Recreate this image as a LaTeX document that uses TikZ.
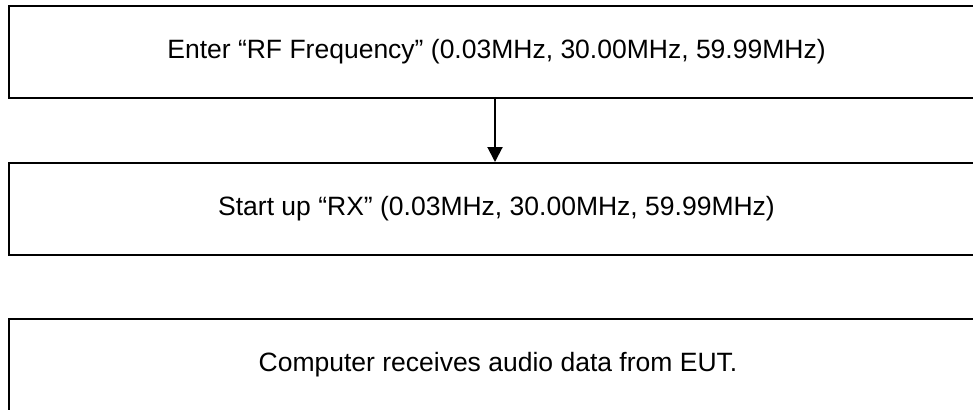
\documentclass[tikz,border=0pt]{standalone}
\usepackage{fontspec}
\setmainfont{Liberation Sans}
\usetikzlibrary{arrows.meta}
\begin{document}
\begin{tikzpicture}[x=1pt,y=-1pt,
  boxstyle/.style={draw=black, line width=2pt, rectangle, inner sep=0pt, anchor=north west, minimum width=1100pt},
  txt/.style={font=\fontsize{26.5}{31}\selectfont, inner sep=0pt, anchor=center},
  arr/.style={line width=2pt, -{Triangle[width=15pt,length=15pt]}}]
\useasboundingbox (0,0) rectangle (973,409);
\clip (0,0) rectangle (973,409);
\node[boxstyle, minimum height=92pt] (b1) at (8,5) {};
\node[boxstyle, minimum height=92pt] (b2) at (8,162) {};
\node[boxstyle, minimum height=150pt] (b3) at (8,318) {};
\node[txt] (t1) at (496.5,52) {Enter “RF Frequency” (0.03MHz, 30.00MHz, 59.99MHz)};
\node[txt] (t2) at (496.5,209) {Start up “RX” (0.03MHz, 30.00MHz, 59.99MHz)};
\node[txt] (t3) at (498,365) {Computer receives audio data from EUT.};
\coordinate (a1) at (495,97);
\draw[arr] (a1) -- (a1 |- b2.north);
\end{tikzpicture}
\end{document}
